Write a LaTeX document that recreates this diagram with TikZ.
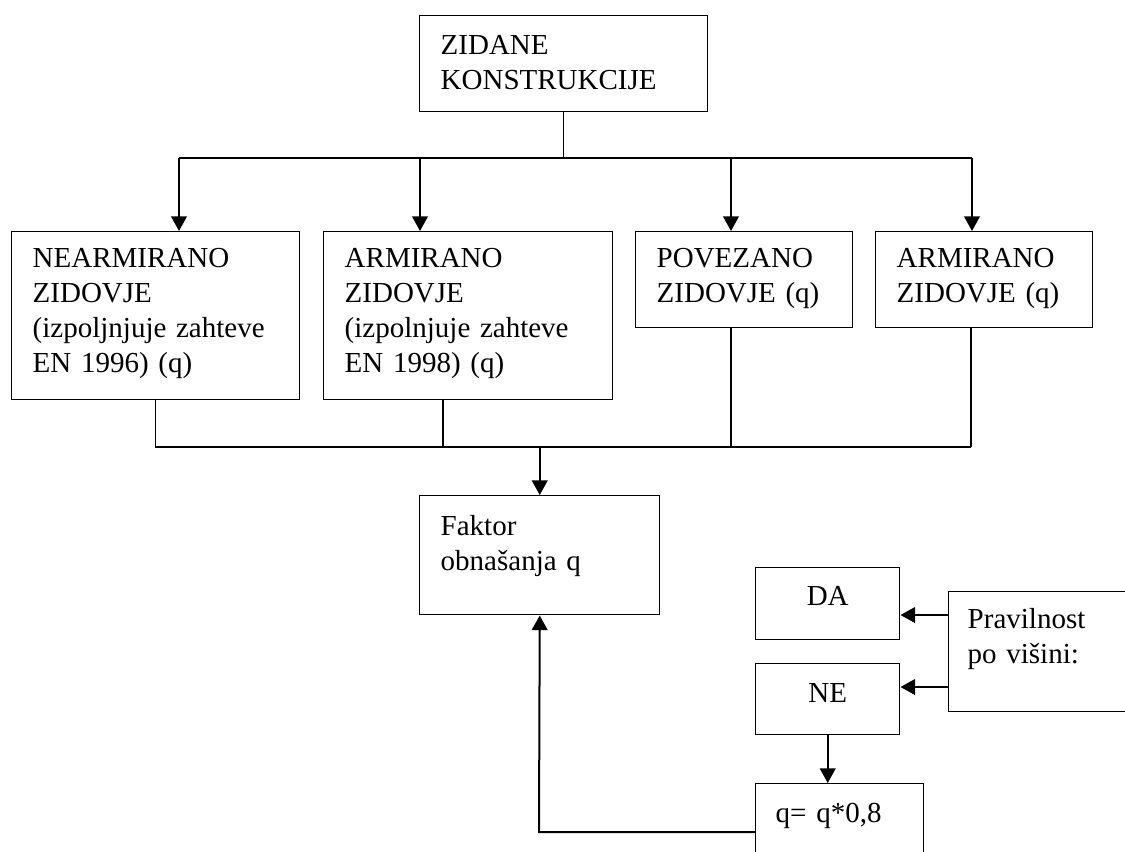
\documentclass[tikz,border=0pt]{standalone}
\usepackage{fontspec}
\setmainfont{Liberation Serif}
\usetikzlibrary{arrows.meta}

\tikzset{
  box/.style={draw, line width=1.1pt, anchor=north west, align=left, inner xsep=15.75pt, inner ysep=0pt,
    font=\fontsize{21.75}{26.25}\selectfont},
  wire/.style={line width=0.8pt},
  arr/.style={-{Triangle[width=11.75pt,length=11pt]}, line width=1.5pt}
}

\begin{document}
\begin{tikzpicture}[x=0.75pt,y=0.75pt,yscale=-1,xscale=1]
    \useasboundingbox (0,0) rectangle (1125,851);
    \clip (0,0) rectangle (1125,851);

    %Shape: Rectangle [top]
    \node[box, text width=184.5pt, text height=29.25pt, text depth=42.75pt] (top) at (419,15) {ZIDANE\\KONSTRUKCIJE};
    %Shape: Rectangle [row of four]
    \node[box, text width=184.5pt, text height=27pt, text depth=99pt] (near) at (11,231) {NEARMIRANO\\ZIDOVJE\\(izpoljnjuje zahteve\\EN 1996) (q)};
    \node[box, text width=185.25pt, text height=27pt, text depth=99pt] (arma) at (323,231) {ARMIRANO\\ZIDOVJE\\(izpolnjuje zahteve\\EN 1998) (q)};
    \node[box, text width=131.25pt, text height=27pt, text depth=45pt] (pove) at (635,231) {POVEZANO\\ZIDOVJE (q)};
    \node[box, text width=131.25pt, text height=27pt, text depth=45pt] (armb) at (875,231) {ARMIRANO\\ZIDOVJE (q)};
    %Shape: Rectangle [factor]
    \node[box, text width=148.5pt, text height=30pt, text depth=59.25pt] (fakt) at (419,495) {Faktor\\obnašanja q};
    %Shape: Rectangle [right part]
    \node[box, align=center, text width=76.5pt, text height=28.5pt, text depth=25.5pt] (da) at (755,567) {DA};
    \node[box, align=center, text width=76.5pt, text height=29.25pt, text depth=24pt] (ne) at (755,663) {NE};
    \node[box, inner xsep=14.25pt, text width=123pt, text height=27.75pt, text depth=62.25pt] (prav) at (948,591) {Pravilnost\\po višini:};
    \node[box, inner xsep=15pt, text width=96pt, text height=29.25pt, text depth=38.25pt] (qred) at (755,783) {q= q*0,8};

    % Points on the lines
    \coordinate (sp1) at (179,158);
    \coordinate (sp2) at (420,158);
    \coordinate (sp3) at (731,158);
    \coordinate (sp4) at (972,158);
    \coordinate (jn2) at (443,447);
    \coordinate (jn3) at (731,447);
    \coordinate (jn4) at (971,447);
    \coordinate (pr1) at (948,615);
    \coordinate (pr2) at (948,687);
    \coordinate (ret) at (539,832);

    %Straight Lines [from top]
    \draw[wire] (top.south) -- (top.south |- sp1);
    \draw[line width=1.5pt] (sp1) -- (sp4);
    \draw[arr] (sp1) -- (sp1 |- near.north);
    \draw[arr] (sp2) -- (sp2 |- arma.north);
    \draw[arr] (sp3) -- (sp3 |- pove.north);
    \draw[arr] (sp4) -- (sp4 |- armb.north);

    %Straight Lines [to factor]
    \draw[wire] (near.south) -- (near.south |- jn2) -- (jn4);
    \draw[wire] (jn2 |- arma.south) -- (jn2);
    \draw[wire] (jn3 |- pove.south) -- (jn3);
    \draw[wire] (jn4 |- armb.south) -- (jn4);
    \draw[arr] (fakt.north |- jn2) -- (fakt.north);

    %Straight Lines [right part]
    \draw[arr] (pr1) -- (pr1 -| da.east);
    \draw[arr] (pr2) -- (pr2 -| ne.east);
    \draw[arr] (ne.south) -- (ne.south |- qred.north);
    \draw[arr] (ret -| qred.west) -- (ret) -- (fakt.south);
\end{tikzpicture}
\end{document}
